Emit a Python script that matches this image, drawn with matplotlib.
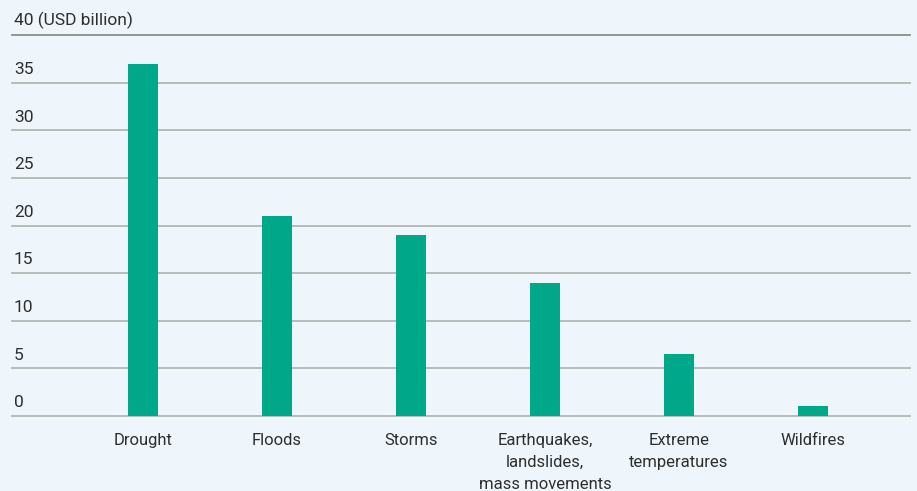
import numpy as np
import matplotlib.pyplot as plt
from matplotlib import transforms

categories = ["Drought", "Floods", "Storms", "Earthquakes,\nlandslides,\nmass movements",
              "Extreme\ntemperatures", "Wildfires"]
losses = [37, 21, 19, 14, 6.5, 1]
y_ticks = [0, 5, 10, 15, 20, 25, 30, 35, 40]

BG = "#EEF5FB"
BAR = "#00A88A"
TEXT = "#2E2E2E"

plt.rcParams["font.family"] = ["Roboto", "DejaVu Sans"]


def main():
    fig = plt.figure(figsize=(9.17, 4.91), dpi=100, facecolor=BG)
    ax = fig.add_axes([12 / 917, 75 / 491, 898 / 917, 381 / 491], facecolor=BG)

    x = np.arange(len(categories))
    ax.bar(x, losses, width=0.23, color=BAR, zorder=3)

    ax.set_xlim(-0.977, 5.724)
    ax.set_ylim(0, 40)

    # horizontal rules with their labels sitting just above them
    trans = transforms.blended_transform_factory(ax.transAxes, ax.transData)
    for v in y_ticks:
        color = "#8C8C8C" if v == 40 else "#B5B5B5"
        ax.axhline(v, color=color, lw=1.3, zorder=1, clip_on=False)
        label = "40 (USD billion)" if v == 40 else str(v)
        ax.text(0.002, v + 0.6, label, transform=trans, ha="left", va="bottom",
                fontsize=12.5, color=TEXT)

    ax.set_xticks(x)
    ax.set_xticklabels(categories, fontsize=12, color=TEXT, linespacing=1.6)
    ax.tick_params(axis="x", length=0, pad=12)
    ax.set_yticks([])
    for s in ax.spines.values():
        s.set_visible(False)

    fig.savefig("out.png", dpi=100, facecolor=BG)


if __name__ == "__main__":
    main()
